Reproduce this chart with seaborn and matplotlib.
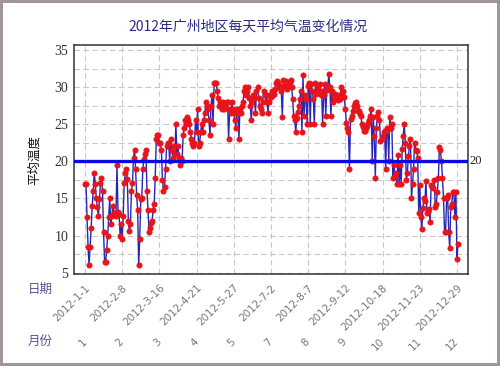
import matplotlib
matplotlib.use("Agg")
import matplotlib.pyplot as plt
import matplotlib.transforms as mtransforms
from matplotlib.ticker import MultipleLocator, FixedLocator
import seaborn as sns
import pandas as pd

# ---- data ----
temps_jan_mar = [17, 17, 12.5, 8.5, 6, 8.5, 11, 14, 16, 18.4, 17, 15, 13.8, 12.6, 14.9, 17.1,
                 17.7, 16, 10.5, 6.5, 6.5, 8, 10, 12.5, 15, 11.5, 12.6, 14, 13.1, 13, 12.7, 19.5,
                 13.2, 12.9, 10, 11.5, 9.5, 12.6, 17.1, 18.4, 18.9, 17.6, 11.9, 10.6, 11.5, 16,
                 17.1, 20.5, 21.5, 18.9, 15.4, 13.5, 6, 9.5, 14.9, 15.1, 19, 20.3, 21, 21.5, 16,
                 13.5, 10.5, 11, 11.7, 12, 13.5, 14.3, 17.8, 23, 23.5, 23.5, 22.5, 22.5, 21.5,
                 17.5, 16, 16.5, 19, 22, 22.5]
temps_mar_jun = [22.5, 20, 23, 21.5, 20.5, 22, 21, 25, 21, 22,
                 20.5, 19.5, 20.5, 20, 23.5, 24.5, 25.5, 25, 26, 25.5,
                 25, 24, 23, 22.5, 22, 22.5, 25.5, 24, 27, 22,
                 22.5, 24, 25, 24, 25.5, 26.5, 28, 27.5, 27, 25.5,
                 23.5, 27.5, 29, 25, 30.5, 30.5, 30.5, 29.5, 28.5, 27.5,
                 28, 27.5, 27, 28, 27, 27.5, 28, 28, 23, 27,
                 26.5, 28, 27, 26.5, 25.5, 24.5, 27, 26.5, 23, 27,
                 26.5, 27.5, 28, 29.5, 30, 29, 29.5, 30, 28.5, 27.5,
                 25.5, 28, 29, 28.5, 26.5, 29.5, 30, 28.5, 27.5, 27,
                 26.5, 28, 29.5, 29, 28, 29, 26.5, 28]
temps_jun_sep = [29, 28.6, 29.5, 28.9, 29.1, 29.8, 30.5, 30.8, 30.5, 30,
                 30.2, 29.5, 26, 31, 30, 30.5, 30.8, 29.8, 30.2, 30.5,
                 31, 30, 28.4, 26.1, 25.5, 24, 25.9, 26.6, 27.5, 28.4,
                 29.5, 24, 31.6, 26.1, 28.9, 28.4, 25, 30.2, 30.5, 25,
                 30.4, 29.5, 28.4, 25, 30.5, 29.1, 29.5, 30, 30.4, 29,
                 29.5, 25, 28.9, 30.4, 26.1, 29.6, 30, 31.7, 30, 26.1,
                 29.5, 28, 28.6, 29.1, 28.6, 28.5, 28.2, 28.9, 28.4, 30,
                 29.2, 29.5, 28.6, 27, 25.2, 24.5, 23.9, 19, 25.7, 26.1,
                 26.8, 27.5, 27.8, 28, 27.5, 26.8, 26.8, 26.4, 26.1, 25,
                 24.6, 24.1, 24.1, 24.5, 24.8, 25.2, 25.5]
temps_sep_dec = [26.1, 27, 20, 26, 23.4, 17.8, 24.5, 26.1, 26.6, 25.5,
                 22.8, 23, 23.4, 23.9, 24.1, 18.9, 24.5, 24.3, 20, 26,
                 24.5, 25, 17.8, 19.5, 18, 18.4, 16.9, 20.9, 16.9, 19.5,
                 16.9, 21.6, 23.4, 25, 22.5, 17.5, 18.4, 20.7, 22, 23,
                 15, 16.9, 18.9, 22.5, 21.5, 21.4, 20.5, 13, 16.8, 12.5,
                 10.9, 13.7, 15, 14.6, 17.4, 13, 13.2, 13.6, 11.8, 16.8,
                 16.6, 16.4, 17.5, 13.9, 14.3, 15.9, 17.7, 21.9, 21.5, 20,
                 17.7, 15, 10.5, 10.5, 15, 15.5, 10.5, 8.3, 13.9, 14.3,
                 15.9, 15.9, 12.5, 15.9, 6.8, 8.9]
temps = temps_jan_mar + temps_mar_jun + temps_jun_sep + temps_sep_dec

date_labels = ["2012-1-1", "2012-2-8", "2012-3-16", "2012-4-21", "2012-5-27", "2012-7-2",
               "2012-8-7", "2012-9-12", "2012-10-18", "2012-11-23", "2012-12-29"]
month_labels = ["1", "2", "3", "4", "5", "7", "8", "9", "10", "11", "12"]
ref_value = 20
title = "2012年广州地区每天平均气温变化情况"

# ---- styling ----
sns.set_style("white")
plt.rcParams["font.family"] = ["Noto Sans CJK SC", "DejaVu Sans"]

W, H = 500, 366
fig = plt.figure(figsize=(W / 100, H / 100), dpi=100, facecolor="white",
                 edgecolor="#a3959c", linewidth=3)
ax = fig.add_axes([74 / W, 1 - 274.3 / H, (467.7 - 74) / W, (274.3 - 45) / H])

df = pd.DataFrame({"idx": range(len(temps)), "temp": temps})
sns.lineplot(data=df, x="idx", y="temp", ax=ax, color="#2626b8", linewidth=1.0,
             marker="o", markersize=3.8, markerfacecolor="#e8141c",
             markeredgecolor="#e8141c", markeredgewidth=0.5, zorder=3)

ax.axhline(ref_value, color="#0a0ae0", linewidth=2.4, zorder=4)
ax.text(1.005, ref_value, str(ref_value), transform=mtransforms.blended_transform_factory(ax.transAxes, ax.transData),
        ha="left", va="center", fontsize=9, family="Liberation Serif", color="#222222")

ax.set_xlim(-10.6, 370.4)
ax.set_ylim(4.78, 35.67)

tick_pos = list(range(0, 36 * len(date_labels), 36))
ax.xaxis.set_major_locator(FixedLocator(tick_pos))
ax.set_xticklabels(date_labels, rotation=45, ha="right", rotation_mode="anchor",
                   fontsize=7.5, color="#777777", family="DejaVu Sans")
ax.yaxis.set_major_locator(MultipleLocator(5))
ax.yaxis.set_minor_locator(MultipleLocator(2.5))
for lab in ax.get_yticklabels():
    lab.set_family("Liberation Serif")
    lab.set_fontsize(10)
    lab.set_color("#333333")
ax.tick_params(axis="x", which="major", direction="out", length=4, width=1, color="#333333", pad=2)
ax.tick_params(axis="y", which="major", direction="out", length=3, width=1, color="#333333", pad=1)
ax.tick_params(axis="y", which="minor", length=0)

ax.grid(True, which="major", axis="x", color="#c8c8c8", linestyle=(0, (5, 3)), linewidth=0.8)
ax.grid(True, which="both", axis="y", color="#c8c8c8", linestyle=(0, (5, 3)), linewidth=0.8)
ax.set_axisbelow(True)
for s in ax.spines.values():
    s.set_color("#333333")
    s.set_linewidth(1.1)

ax.set_xlabel("")
ax.set_ylabel("")

# month labels row
trans = mtransforms.blended_transform_factory(ax.transData, fig.transFigure)
for p, m in zip(tick_pos, month_labels):
    ax.text(p, 1 - 340 / H, m, transform=trans, rotation=45, ha="right", va="center",
            rotation_mode="anchor", fontsize=7.5, color="#777777", family="DejaVu Sans")

fig.text(248 / W, 1 - 27 / H, title, ha="center", va="center", fontsize=10,
         color="#2b2b86")
fig.text(35 / W, 1 - 160 / H, "平均温度", rotation=90, ha="center", va="center",
         fontsize=9, color="#111111")
fig.text(40 / W, 1 - 289 / H, "日期", ha="center", va="center", fontsize=9, color="#55558f")
fig.text(40 / W, 1 - 341 / H, "月份", ha="center", va="center", fontsize=9, color="#55558f")

fig.savefig("out.png", dpi=100, facecolor=fig.get_facecolor(), edgecolor=fig.get_edgecolor())
